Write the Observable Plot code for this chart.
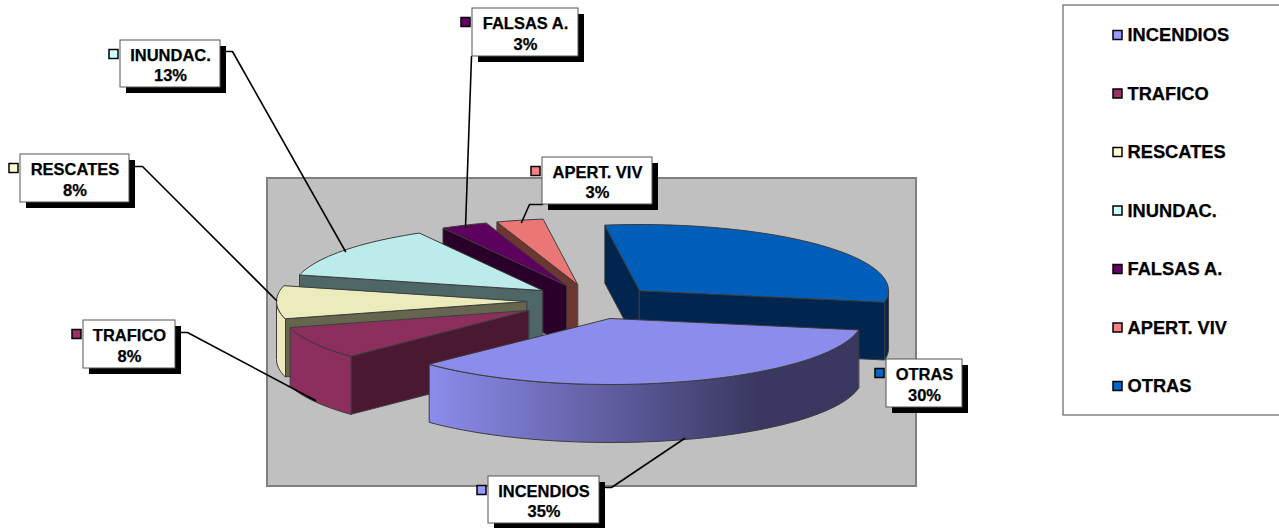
<!DOCTYPE html>
<html>
<head>
<meta charset="utf-8">
<script src="https://cdn.jsdelivr.net/npm/d3@7"></script>
<script src="https://cdn.jsdelivr.net/npm/@observablehq/plot@0.6"></script>
<style>
html,body{margin:0;padding:0;background:#fff;overflow:hidden}
svg{display:block}
</style>
</head>
<body>
<div id="chart"></div>
<script>
// ---- data
const categories = ["INCENDIOS","TRAFICO","RESCATES","INUNDAC.","FALSAS A.","APERT. VIV","OTRAS"];
const shares = [35,8,8,13,3,3,30];

// ---- styles
const keyColors  = ["#9999ff","#993366","#ffffcc","#ccffff","#660066","#ff8080","#0066cc"];
const topColors  = ["#8c8cec","#8c2e5e","#ebebbb","#bbebeb","#5e005e","#eb7676","#005ebb"];
const sideColors = ["#3a3760","#4a1830","#666650","#4f6666","#2a002a","#6e3630","#00264f"];
const rimColors  = ["url(#rimShade)","#8c2e5e","#ebebbb","#bbebeb","#5e005e","#eb7676","#00264f"];

// ---- layout (pie geometry and label furniture, in page pixels)
const pieRx = [252,247,250,250,250,250,249], pieRy = 66, pieDepth = 58, pieStart = 100;
const apexX = [610,528,526,542,566,577,639];
const apexY = [318,310,301,290,285,284,290];
const boxes = [[488,476,599,523],[83,320,175,368],[20,154,129,202],[120,40,220,87],[472,8,578,56],[542,157,652,204],[886,359,962,407]];
const leaders = [
  [[605,487],[611,487],[684,438]],
  [[180,332],[187,332],[315,400]],
  [[134,166],[142,166],[276,300]],
  [[226,51],[232,51],[345,251]],
  [[471,56],[465,227]],
  [[542,204],[529,204],[521,222]],
  []
];
const legendRows = [35,93.5,152,210.5,269,327.5,386];

// ---- geometry derived from the values
const arcs = d3.pie().sort(null)
  .startAngle(pieStart*Math.PI/180)
  .endAngle((pieStart+360)*Math.PI/180)(shares);

const pt = (i,t,dz=0) => ({
  x: apexX[i] + pieRx[i]*Math.sin(t),
  y: apexY[i] - pieRy*Math.cos(t) + dz
});
function arcPts(i,a,b,dz=0){
  const n = Math.max(2,Math.ceil((b-a)/(Math.PI/90)));
  return d3.range(n+1).map(k => pt(i,a+(b-a)*k/n,dz));
}
function frontRange(a,b){
  const D = Math.PI/180;
  for (const [lo,hi] of [[90*D,270*D],[450*D,630*D]]){
    const s = Math.max(a,lo), e = Math.min(b,hi);
    if (e > s) return [s,e];
  }
  return null;
}
const poly = (pts,fill) => Plot.line(pts,{x:"x",y:"y",fill,stroke:"#3c3c3c",strokeWidth:1,curve:"linear-closed",strokeLinejoin:"round"});

const sliceMarks = [];
d3.range(categories.length).reverse().forEach(i => {
  const {startAngle:a,endAngle:b} = arcs[i];
  const apex = {x:apexX[i],y:apexY[i]};
  const apexLow = {x:apexX[i],y:apexY[i]+pieDepth};
  // only the radial walls that face the viewer
  if (Math.sin(a) < 0) sliceMarks.push(poly([apex,pt(i,a),pt(i,a,pieDepth),apexLow],sideColors[i]));
  if (Math.sin(b) > 0) sliceMarks.push(poly([apex,pt(i,b),pt(i,b,pieDepth),apexLow],sideColors[i]));
  const fr = frontRange(a,b);
  if (fr) {
    sliceMarks.push(poly([...arcPts(i,fr[0],fr[1]),...arcPts(i,fr[0],fr[1],pieDepth).reverse()],rimColors[i]));
  }
  sliceMarks.push(poly([apex,...arcPts(i,a,b)],topColors[i]));
});

const rows = categories.map((name,i) => ({name,share:shares[i],i}));
const leaderRows = leaders.flatMap((l,i) => l.map(([x,y]) => ({x,y,i})));

const defsMark = () => {
  const defs = d3.create("svg:defs");
  const g = defs.append("linearGradient").attr("id","rimShade").attr("x1",0).attr("x2",1).attr("y1",0).attr("y2",0);
  g.append("stop").attr("offset","0").attr("stop-color","#8c8cec");
  g.append("stop").attr("offset","0.77").attr("stop-color","#3a3760");
  g.append("stop").attr("offset","1").attr("stop-color","#3a3760");
  return defs.node();
};

const labelFont = {fontFamily:"Liberation Sans",fontWeight:"bold",fill:"#000",stroke:"#000",strokeWidth:0.25};

const plot = Plot.plot({
  width:1279, height:528, margin:0,
  x:{domain:[0,1279],range:[0,1279],axis:null},
  y:{domain:[0,528],range:[0,528],axis:null},
  style:{background:"#fff"},
  marks:[
    defsMark,
    // plot area
    Plot.rect([0],{x1:()=>267,x2:()=>916,y1:()=>178,y2:()=>486,fill:"#c0c0c0",stroke:"#808080",strokeWidth:2}),
    // slices
    ...sliceMarks,
    // leader lines
    Plot.line(leaderRows,{x:"x",y:"y",z:"i",stroke:"#000",strokeWidth:1.6}),
    // label shadows and boxes
    Plot.rect(rows,{x1:d=>boxes[d.i][0]+6,x2:d=>boxes[d.i][2]+6,y1:d=>boxes[d.i][1]+6,y2:d=>boxes[d.i][3]+6,fill:"#000"}),
    Plot.rect(rows,{x1:d=>boxes[d.i][0],x2:d=>boxes[d.i][2],y1:d=>boxes[d.i][1],y2:d=>boxes[d.i][3],fill:"#fff",stroke:"#555",strokeWidth:1}),
    Plot.text(rows,{x:d=>(boxes[d.i][0]+boxes[d.i][2])/2,y:d=>(boxes[d.i][1]+boxes[d.i][3])/2+0.5,
      text:d=>`${d.name}\n${d.share}%`,fontSize:16.5,lineHeight:1.24,...labelFont}),
    // label keys
    Plot.rect(rows,{x1:d=>boxes[d.i][0]-11,x2:d=>boxes[d.i][0]-2,y1:d=>boxes[d.i][1]+9.5,y2:d=>boxes[d.i][1]+18.5,
      fill:d=>keyColors[d.i],stroke:"#000",strokeWidth:1.5}),
    // legend
    Plot.rect([0],{x1:()=>1063,x2:()=>1300,y1:()=>5,y2:()=>415,fill:"#fff",stroke:"#444",strokeWidth:1}),
    Plot.rect(rows,{x1:()=>1113,x2:()=>1122,y1:d=>legendRows[d.i]-4.5,y2:d=>legendRows[d.i]+4.5,
      fill:d=>keyColors[d.i],stroke:"#000",strokeWidth:1.5}),
    Plot.text(rows,{x:()=>1127,y:d=>legendRows[d.i],text:"name",textAnchor:"start",fontSize:18.3,...labelFont})
  ]
});
document.getElementById("chart").appendChild(plot);
</script>
</body>
</html>
